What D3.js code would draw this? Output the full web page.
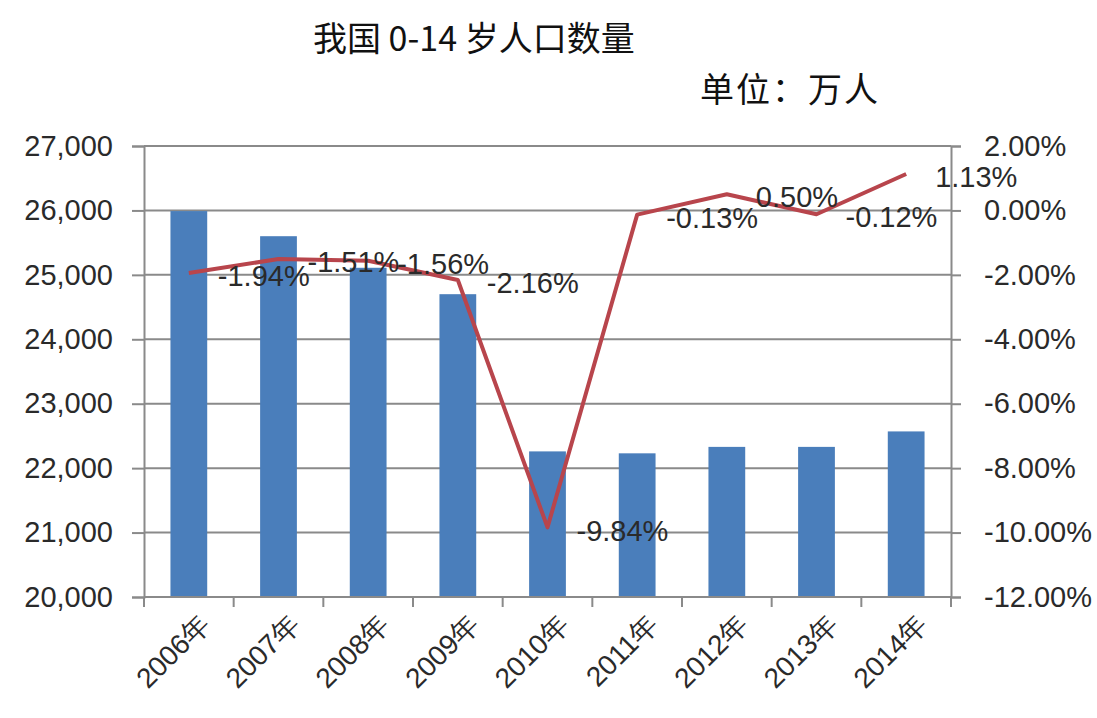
<!DOCTYPE html>
<html><head><meta charset="utf-8">
<script src="https://cdn.jsdelivr.net/npm/d3@7"></script>
<style>body{margin:0;background:#fff}svg{display:block}</style>
</head><body>
<svg id="c" width="1097" height="718"></svg>
<script>
const categories = ["2006年","2007年","2008年","2009年","2010年","2011年","2012年","2013年","2014年"];
const population = [25990, 25600, 25110, 24700, 22260, 22230, 22330, 22330, 22570];
const growthRate = [-1.94, -1.51, -1.56, -2.16, -9.84, -0.13, 0.50, -0.12, 1.13];
const growthLabels = ["-1.94%","-1.51%","-1.56%","-2.16%","-9.84%","-0.13%","0.50%","-0.12%","1.13%"];
const leftTicks = [20000,21000,22000,23000,24000,25000,26000,27000];
const rightTicks = [-12,-10,-8,-6,-4,-2,0,2];

const svg = d3.select("#c");
const m = {l:144, r:951, t:146, b:597};
const x = d3.scaleBand().domain(categories).range([m.l, m.r]).paddingInner(0.59).paddingOuter(0.295);
const xb = d3.scaleBand().domain(categories).range([m.l, m.r]);
const yL = d3.scaleLinear().domain([20000,27000]).range([m.b, m.t]);
const yR = d3.scaleLinear().domain([-12,2]).range([m.b, m.t]);
const grid = "#8a8a8a";

// gridlines
svg.append("g").selectAll("line").data(leftTicks).join("line")
  .attr("x1", m.l).attr("x2", m.r).attr("y1", d=>yL(d)).attr("y2", d=>yL(d))
  .attr("stroke", grid).attr("stroke-width", 2);

// bars
svg.append("g").selectAll("rect").data(population).join("rect")
  .attr("x", (d,i)=>x(categories[i])).attr("width", x.bandwidth())
  .attr("y", d=>yL(d)).attr("height", d=>yL(20000)-yL(d))
  .attr("fill", "#4a7ebb");

// axes
const fontNum = "'Liberation Sans', Arial, sans-serif";
const gL = svg.append("g").attr("transform", `translate(${m.l},0)`)
  .call(d3.axisLeft(yL).tickValues(leftTicks).tickFormat(d3.format(",")).tickSize(12).tickPadding(19));
const gR = svg.append("g").attr("transform", `translate(${m.r},0)`)
  .call(d3.axisRight(yR).tickValues(rightTicks).tickFormat(d=>d.toFixed(2)+"%").tickSize(10).tickPadding(23));
[gL,gR].forEach(g=>{
  g.select(".domain").attr("stroke", grid).attr("stroke-width", 2);
  g.selectAll(".tick line").attr("stroke", grid).attr("stroke-width", 2);
  g.selectAll("text").attr("font-family", fontNum).attr("font-size", 29).attr("fill", "#2a2a2a");
});

// bottom axis
const gB = svg.append("g").attr("transform", `translate(0,${m.b})`);
gB.append("line").attr("x1", m.l).attr("x2", m.r).attr("stroke", grid).attr("stroke-width", 2);
const boundaries = categories.map(c=>xb(c)).concat([m.r]);
gB.selectAll("line.t").data(boundaries).join("line").attr("class","t")
  .attr("x1", d=>d).attr("x2", d=>d).attr("y1", 0).attr("y2", 10)
  .attr("stroke", grid).attr("stroke-width", 2);
gB.selectAll("text").data(categories).join("text")
  .attr("transform", d=>`translate(${xb(d)+xb.bandwidth()/2+16},${22}) rotate(-45)`)
  .attr("text-anchor", "end").attr("dy", "0.35em")
  .attr("font-family", fontNum).attr("font-size", 28).attr("fill", "#2a2a2a")
  .text(d=>d);

// line
const line = d3.line().x((d,i)=>xb(categories[i])+xb.bandwidth()/2).y(d=>yR(d));
svg.append("path").datum(growthRate).attr("d", line)
  .attr("fill","none").attr("stroke","#b8454c").attr("stroke-width",4).attr("stroke-linejoin","round");

// labels
svg.append("g").selectAll("text").data(growthRate).join("text")
  .attr("x", (d,i)=>xb(categories[i])+xb.bandwidth()/2+29)
  .attr("y", d=>yR(d)+3).attr("dy","0.35em")
  .attr("font-family", fontNum).attr("font-size", 29).attr("fill", "#2a2a2a")
  .text((d,i)=>growthLabels[i]);

// titles
svg.append("text").attr("x", 313).attr("y", 51)
  .attr("font-family", "'Noto Sans CJK SC', sans-serif").attr("font-size", 34).attr("fill","#111")
  .text("我国 0-14 岁人口数量");
svg.append("text").attr("x", 700).attr("y", 102)
  .attr("font-family", "'Noto Sans CJK SC', sans-serif").attr("font-size", 34).attr("letter-spacing", 2).attr("fill","#111")
  .text("单位：万人");
</script>
</body></html>
